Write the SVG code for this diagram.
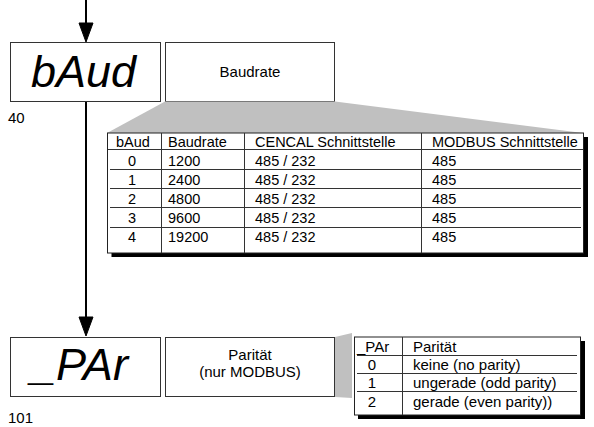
<svg xmlns="http://www.w3.org/2000/svg" width="594" height="427" viewBox="0 0 594 427">
<defs>
<style>
.box{fill:#fff;stroke:#333;stroke-width:1}
.lcd{font-family:"Liberation Sans",Arial,sans-serif;font-style:italic;font-size:44px;fill:#000}
.t{font-family:"Liberation Sans",Arial,sans-serif;font-size:14.5px;fill:#000}
.s{font-size:15px}
.c{text-anchor:middle}
.grid{stroke:#333;stroke-width:1;fill:none}
.shadow{fill:#000}
.conn{stroke:#000;stroke-width:2;fill:none}
</style>
</defs>
<rect width="594" height="427" fill="#fff"/>

<g id="connectors">
<path class="conn" d="M86 0V26"/>
<path d="M79 23L93 23L86 42Z" fill="#000" stroke="#000" stroke-width="1"/>
<path class="conn" d="M86 101V320"/>
<path d="M79 317L93 317L86 336Z" fill="#000" stroke="#000" stroke-width="1"/>
</g>

<g id="node-baud">
<rect class="box" x="10.5" y="42.5" width="150" height="59"/>
<text class="lcd" x="31" y="87" textLength="105" lengthAdjust="spacingAndGlyphs">bAud</text>
<text class="t s" x="8" y="123">40</text>
</g>

<g id="node-baudrate">
<rect class="box" x="165.5" y="42.5" width="169" height="59"/>
<text class="t s c" x="250" y="77">Baudrate</text>
</g>

<g id="table-baud">
<polygon points="165,101.5 335,101.5 583,133 107,133" fill="#c0c0c0"/>
<rect class="shadow" x="111.5" y="137" width="476.5" height="120"/>
<rect x="107.5" y="133" width="476" height="120" fill="#fff" stroke="#222" stroke-width="1"/>
<path class="grid" d="M108 149.5H583 M110 169.5H581 M110 188.5H581 M110 207.5H581 M110 227.5H581 M161.5 133V253 M244.5 133V253 M421.5 133V253"/>
<text class="t" x="116" y="147">bAud</text>
<text class="t" x="168" y="147">Baudrate</text>
<text class="t" x="255" y="147">CENCAL Schnittstelle</text>
<text class="t" x="432" y="147">MODBUS Schnittstelle</text>
<text class="t c" x="132" y="166">0</text><text class="t" x="168" y="166">1200</text><text class="t" x="255" y="166">485 / 232</text><text class="t" x="432" y="166">485</text>
<text class="t c" x="132" y="185">1</text><text class="t" x="168" y="185">2400</text><text class="t" x="255" y="185">485 / 232</text><text class="t" x="432" y="185">485</text>
<text class="t c" x="132" y="204">2</text><text class="t" x="168" y="204">4800</text><text class="t" x="255" y="204">485 / 232</text><text class="t" x="432" y="204">485</text>
<text class="t c" x="132" y="223">3</text><text class="t" x="168" y="223">9600</text><text class="t" x="255" y="223">485 / 232</text><text class="t" x="432" y="223">485</text>
<text class="t c" x="132" y="242">4</text><text class="t" x="168" y="242">19200</text><text class="t" x="255" y="242">485 / 232</text><text class="t" x="432" y="242">485</text>
</g>

<g id="node-par">
<rect class="box" x="10.5" y="337.5" width="150" height="59"/>
<text class="lcd" x="31" y="380" textLength="97" lengthAdjust="spacingAndGlyphs">_PAr</text>
<text class="t s" x="8" y="423">101</text>
</g>

<g id="node-paritaet">
<rect class="box" x="165.5" y="337.5" width="169" height="59"/>
<text class="t s c" x="250" y="360">Parität</text>
<text class="t s c" x="250" y="377">(nur MODBUS)</text>
</g>

<g id="table-par">
<polygon points="335,337 352,333 352,398 335,397" fill="#c0c0c0"/>
<rect class="shadow" x="358" y="341" width="227" height="78"/>
<rect x="354.5" y="337" width="226" height="78" fill="#fff" stroke="#222" stroke-width="1"/>
<path class="grid" d="M357 355.5H577 M357 373.5H577 M357 391.5H577 M402.5 337V415"/>
<text class="t s" x="357" y="352">_PAr</text>
<text class="t s" x="413" y="352">Parität</text>
<text class="t s c" x="372" y="370">0</text><text class="t s" x="413" y="370">keine (no parity)</text>
<text class="t s c" x="372" y="388">1</text><text class="t s" x="413" y="388">ungerade (odd parity)</text>
<text class="t s c" x="372" y="407">2</text><text class="t s" x="413" y="407">gerade (even parity))</text>
</g>
</svg>
